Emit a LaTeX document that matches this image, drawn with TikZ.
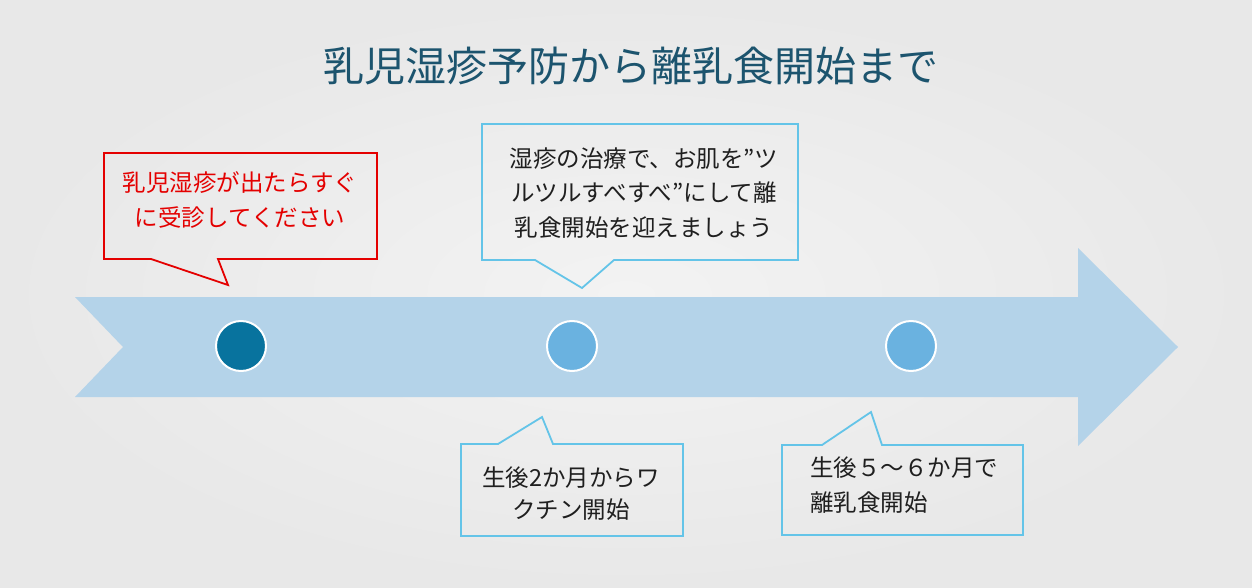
\documentclass[tikz,border=0pt]{standalone}
\usepackage{fontspec}
\newfontfamily\jp{Noto Sans CJK JP}
\definecolor{bgin}{RGB}{243,243,243}
\definecolor{bgout}{RGB}{232,232,232}
\definecolor{arrowblue}{RGB}{180,211,233}
\definecolor{darkdot}{RGB}{8,115,158}
\definecolor{lightdot}{RGB}{106,178,224}
\definecolor{titleblue}{RGB}{28,84,110}
\definecolor{callred}{RGB}{228,0,0}
\definecolor{callblue}{RGB}{100,196,232}
\tikzset{
  dot/.style={circle, draw=white, line width=2pt, minimum size=50pt, inner sep=0pt},
  callout/.style={line width=1.8pt, line join=miter},
  calltext/.style={font=\jp\fontsize{23.5}{34.5}\selectfont, align=center, inner sep=0pt, text=black!88}
}
\begin{document}
\begin{tikzpicture}[x=1pt,y=-1pt]
	\shade[inner color=bgin, outer color=bgout] (0,0) rectangle (1252,588);
	\useasboundingbox (0,0) rectangle (1252,588);
	\node (title) at (631,66) [font=\jp\fontsize{41}{48}\selectfont, text=titleblue] {乳児湿疹予防から離乳食開始まで};
	% arrow
	\coordinate (T1) at (75,297);
	\coordinate (T2) at (1078,297);
	\coordinate (H1) at (1078,248);
	\coordinate (P)  at (1178,347);
	\coordinate (H2) at (1078,446);
	\coordinate (T3) at (1078,397);
	\coordinate (T4) at (75,397);
	\coordinate (N)  at (123,347);
	\fill [arrowblue] (T1)--(T2)--(H1)--(P)--(H2)--(T3)--(T4)--(N)--cycle;
	\node (D1) at (241,346) [dot, fill=darkdot] {};
	\node (D2) at (572,346) [dot, fill=lightdot] {};
	\node (D3) at (911,346) [dot, fill=lightdot] {};
	% callouts
	\draw [callout, callred] (104,153)--(377,153)--(377,259)--(218,259)--(228,285)--(151,259)--(104,259)--cycle;
	\draw [callout, callblue] (482,124)--(798,124)--(798,260)--(614,260)--(582,288)--(535,260)--(482,260)--cycle;
	\draw [callout, callblue] (461,444)--(498,444)--(542,417)--(553,444)--(683,444)--(683,536)--(461,536)--cycle;
	\draw [callout, callblue] (782,445)--(822,445)--(871,412)--(882,445)--(1023,445)--(1023,535)--(782,535)--cycle;
	\node (c1) at (240,200) [calltext, text=callred] {乳児湿疹が出たらすぐ\\に受診してください};
	\node (c2) at (644,193) [calltext] {湿疹の治療で、お肌を”ツ\\ルツルすべすべ”にして離\\乳食開始を迎えましょう};
	\node (c3) at (571,494) [calltext, font=\jp\fontsize{23.5}{32}\selectfont] {生後2か月からワ\\クチン開始};
	\node (c4) at (810,485) [calltext, anchor=west, align=left] {生後５～６か月で\\離乳食開始};
\end{tikzpicture}
\end{document}
